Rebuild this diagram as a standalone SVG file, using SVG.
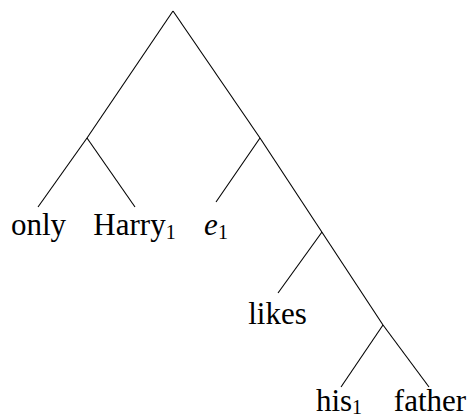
<svg xmlns="http://www.w3.org/2000/svg" width="470" height="419" viewBox="0 0 470 419">
<style>
.e{stroke:#000;stroke-width:1.1;fill:none}
.t{font-family:"Liberation Serif",serif;font-size:31px;fill:#000;text-anchor:middle}
.s{font-size:20px}
</style>
<rect width="470" height="419" fill="#fff"/>
<g id="edges">
<line class="e" x1="173" y1="11" x2="87" y2="138"/>
<line class="e" x1="173" y1="11" x2="260" y2="138"/>
<line class="e" x1="87" y1="138" x2="38" y2="207"/>
<line class="e" x1="87" y1="138" x2="135" y2="207"/>
<line class="e" x1="260" y1="138" x2="216" y2="202"/>
<line class="e" x1="260" y1="138" x2="383" y2="325"/>
<line class="e" x1="322" y1="232" x2="278" y2="293"/>
<line class="e" x1="383" y1="325" x2="341" y2="387"/>
<line class="e" x1="383" y1="325" x2="429" y2="387"/>
</g>
<g id="only"><text class="t" x="38.5" y="235">only</text></g>
<g id="harry"><text class="t" x="134.5" y="235">Harry<tspan class="s" dy="4">1</tspan></text></g>
<g id="e1"><text class="t" x="216" y="235"><tspan font-style="italic">e</tspan><tspan class="s" dy="4">1</tspan></text></g>
<g id="likes"><text class="t" x="277.5" y="324">likes</text></g>
<g id="his"><text class="t" x="339" y="411">his<tspan class="s" dy="3">1</tspan></text></g>
<g id="father"><text class="t" x="430" y="411">father</text></g>
</svg>
